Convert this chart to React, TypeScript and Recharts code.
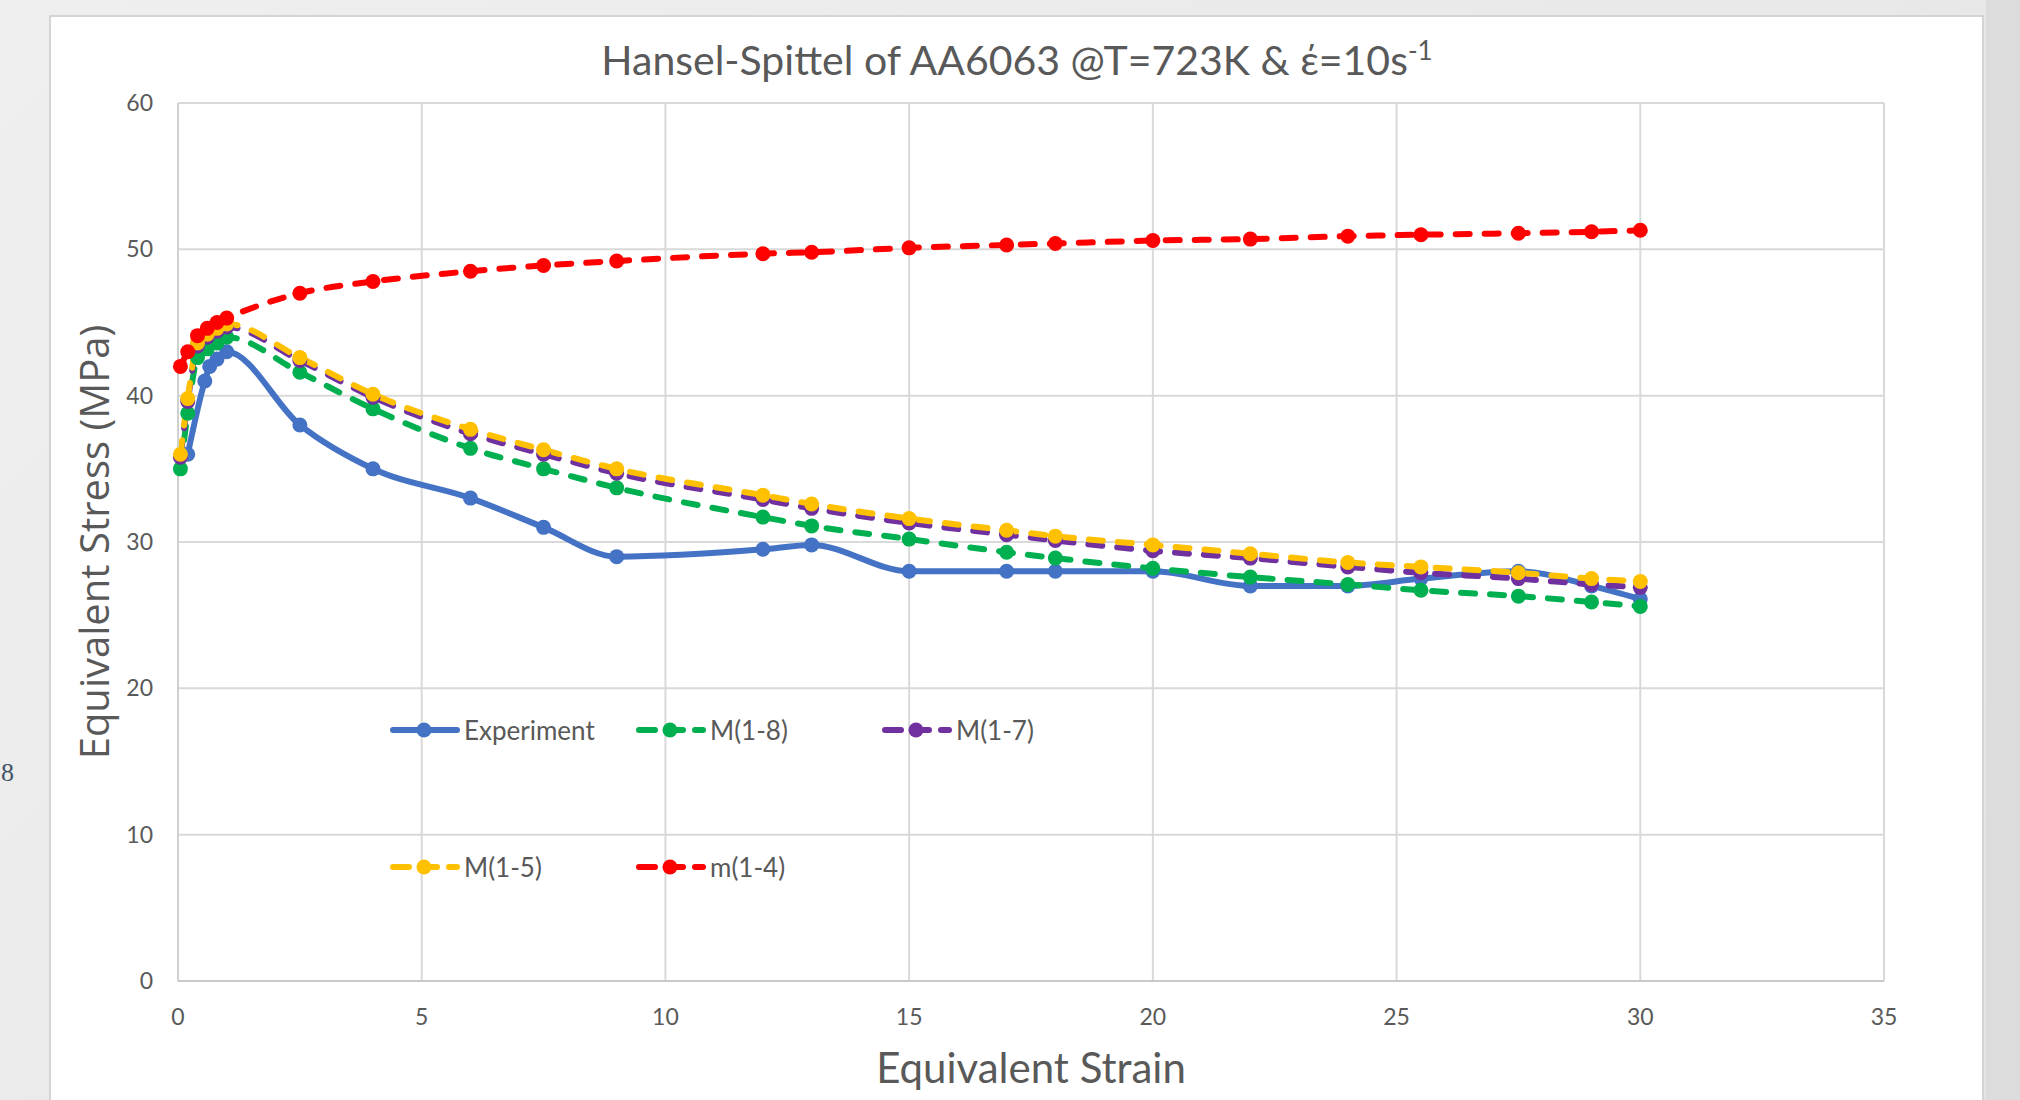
import React from 'react'
import { LineChart, Line, XAxis, YAxis, CartesianGrid } from 'recharts'

const xTicks = [0, 5, 10, 15, 20, 25, 30, 35]
const yTicks = [0, 10, 20, 30, 40, 50, 60]

const experimentStrain = [0.2, 0.55, 0.65, 0.8, 1.0, 2.5, 4, 6, 7.5, 9, 12, 13, 15, 17, 18, 20, 22, 24, 25.5, 27.5, 29, 30]
const experimentStress = [36, 41, 42, 42.5, 43, 38, 35, 33, 31, 29, 29.5, 29.8, 28, 28, 28, 28, 27, 27, 27.5, 28, 27, 26.1]

const modelStrain = [0.05, 0.2, 0.4, 0.6, 0.8, 1.0, 2.5, 4, 6, 7.5, 9, 12, 13, 15, 17, 18, 20, 22, 24, 25.5, 27.5, 29, 30]
const m18Stress = [35, 38.8, 42.6, 43.2, 43.6, 44.0, 41.6, 39.1, 36.4, 35.0, 33.7, 31.7, 31.1, 30.2, 29.3, 28.9, 28.2, 27.6, 27.1, 26.7, 26.3, 25.9, 25.6]
const m17Stress = [35.8, 39.6, 43.4, 44.0, 44.4, 44.7, 42.4, 39.9, 37.4, 36.0, 34.7, 32.9, 32.3, 31.3, 30.5, 30.1, 29.4, 28.9, 28.3, 27.9, 27.5, 27.1, 26.9]
const m15Stress = [36, 39.8, 43.6, 44.2, 44.6, 44.9, 42.6, 40.1, 37.7, 36.3, 35.0, 33.2, 32.6, 31.6, 30.8, 30.4, 29.8, 29.2, 28.6, 28.3, 27.9, 27.5, 27.3]
const m14Stress = [42.0, 43.0, 44.1, 44.6, 45.0, 45.3, 47.0, 47.8, 48.5, 48.9, 49.2, 49.7, 49.8, 50.1, 50.3, 50.4, 50.6, 50.7, 50.9, 51.0, 51.1, 51.2, 51.3]

const zip = (xs: number[], ys: number[]) => xs.map((x, i) => ({ x, y: ys[i] }))

const series = [
  { name: 'Experiment', color: '#4472C4', dashed: false, data: zip(experimentStrain, experimentStress) },
  { name: 'M(1-8)', color: '#00B050', dashed: true, data: zip(modelStrain, m18Stress) },
  { name: 'M(1-7)', color: '#7030A0', dashed: true, data: zip(modelStrain, m17Stress) },
  { name: 'M(1-5)', color: '#FFC000', dashed: true, data: zip(modelStrain, m15Stress) },
  { name: 'm(1-4)', color: '#FF0000', dashed: true, data: zip(modelStrain, m14Stress) },
]

const textColor = '#595959'
const font = 'Lato, "Liberation Sans", sans-serif'

// legend sits inside the plot, 3 columns x 2 rows, like the Excel original
function LegendBox() {
  return (
    <div style={{ position: 'absolute', left: 390, top: 718, display: 'grid', gridTemplateColumns: '246px 246px 246px', rowGap: 113, fontFamily: font }}>
      {series.map((s) => (
        <div key={s.name} style={{ display: 'flex', alignItems: 'center', height: 24 }}>
          <svg width={70} height={20}>
            <line
              x1={3}
              x2={67}
              y1={10}
              y2={10}
              stroke={s.color}
              strokeWidth={6}
              strokeLinecap="round"
              strokeDasharray={s.dashed ? '16 12' : undefined}
            />
            <circle cx={34} cy={10} r={7.5} fill={s.color} />
          </svg>
          <span style={{ marginLeft: 4, fontSize: 26, color: textColor }}>{s.name}</span>
        </div>
      ))}
    </div>
  )
}

export default function App() {
  return (
    <div style={{ position: 'absolute', left: 0, top: 0, width: 2020, height: 1100, overflow: 'hidden', background: 'linear-gradient(135deg, #efefef, #e4e4e4)' }}>
      <div style={{ position: 'absolute', left: 49, top: 15, width: 1935, height: 1100, background: '#ffffff', border: '2px solid #d4d4d4', boxSizing: 'border-box' }} />
      <div style={{ position: 'absolute', left: 1986, top: 0, width: 34, height: 1100, background: '#dcdcdc' }} />
      <div style={{ position: 'absolute', left: 1, top: 758, fontFamily: 'serif', fontSize: 26, color: '#44546a' }}>8</div>

      <div style={{ position: 'absolute', left: 0, top: 0 }}>
        <LineChart width={2020} height={1100} margin={{ top: 103, right: 136, bottom: 79, left: 118 }}>
          <CartesianGrid stroke="#d9d9d9" strokeWidth={2} />
          <XAxis
            type="number"
            dataKey="x"
            domain={[0, 35]}
            ticks={xTicks}
            allowDuplicatedCategory={false}
            height={40}
            tickSize={0}
            tickMargin={28}
            axisLine={{ stroke: '#c9c9c9', strokeWidth: 2 }}
            tick={{ fill: textColor, fontSize: 23, fontFamily: font }}
          />
          <YAxis
            type="number"
            dataKey="y"
            domain={[0, 60]}
            ticks={yTicks}
            width={60}
            tickSize={0}
            tickMargin={25}
            axisLine={{ stroke: '#d0d0d0', strokeWidth: 2 }}
            tick={{ fill: textColor, fontSize: 23, fontFamily: font }}
          />
          {series.map((s) => (
            <Line
              key={s.name}
              name={s.name}
              data={s.data}
              dataKey="y"
              type="monotone"
              stroke={s.color}
              strokeWidth={6}
              strokeDasharray={s.dashed ? '14 15' : undefined}
              strokeLinecap="round"
              dot={{ r: 7.5, fill: s.color, stroke: s.color, strokeWidth: 0, strokeDasharray: '' }}
              activeDot={false}
              isAnimationActive={false}
            />
          ))}
        </LineChart>
      </div>

      <LegendBox />

      <div style={{ position: 'absolute', left: 0, width: 2034, top: 34, textAlign: 'center', fontFamily: font, fontSize: 41, color: textColor, whiteSpace: 'nowrap' }}>
        Hansel-Spittel of AA6063 @T=723K &amp; έ=10s<sup style={{ fontSize: 26 }}>-1</sup>
      </div>
      <div style={{ position: 'absolute', left: 0, width: 2062, top: 1042, textAlign: 'center', fontFamily: font, fontSize: 42, color: textColor }}>
        Equivalent Strain
      </div>
      <div
        style={{
          position: 'absolute',
          left: 93,
          top: 542,
          transform: 'translate(-50%, -50%) rotate(-90deg)',
          fontFamily: '"Open Sans", sans-serif',
          fontSize: 40,
          color: textColor,
          whiteSpace: 'nowrap',
        }}
      >
        Equivalent Stress (MPa)
      </div>
    </div>
  )
}
